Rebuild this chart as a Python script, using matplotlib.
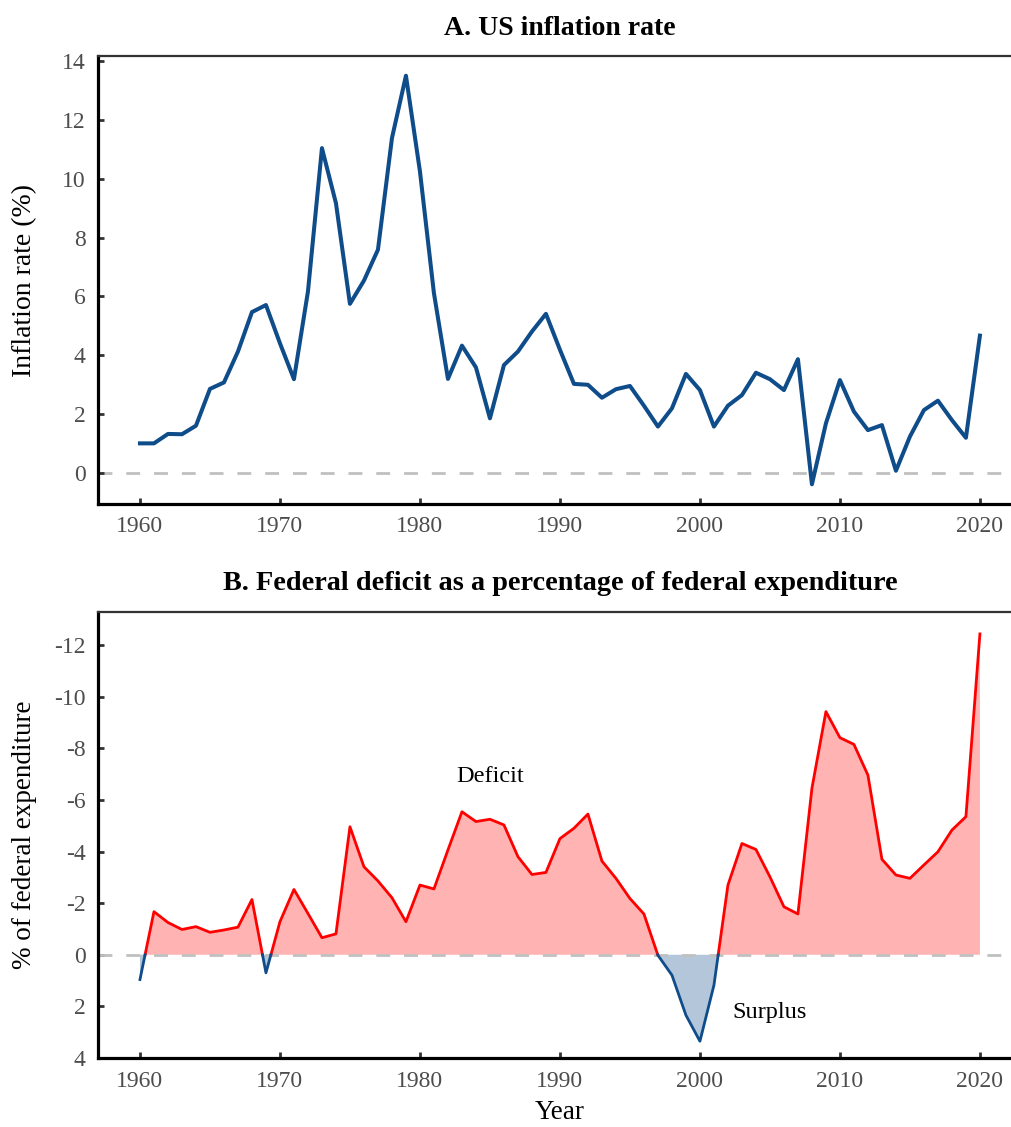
import numpy as np
import matplotlib
matplotlib.use("Agg")
import matplotlib.pyplot as plt

plt.rcParams['font.family'] = ['Liberation Serif', 'DejaVu Serif']
plt.rcParams['axes.unicode_minus'] = False

years = list(range(1960, 2021))

inflation = [1.01, 1.01, 1.33, 1.32, 1.61, 2.86, 3.08, 4.13, 5.47, 5.71,
             4.41, 3.19, 6.17, 11.04, 9.17, 5.75, 6.54, 7.59, 11.38, 13.50,
             10.25, 6.11, 3.20, 4.33, 3.59, 1.86, 3.67, 4.13, 4.81, 5.41,
             4.19, 3.03, 3.00, 2.56, 2.85, 2.96, 2.29, 1.58, 2.20, 3.37,
             2.82, 1.58, 2.29, 2.65, 3.41, 3.19, 2.82, 3.87, -0.38, 1.69,
             3.16, 2.09, 1.46, 1.63, 0.08, 1.24, 2.14, 2.46, 1.80, 1.20,
             4.67]

deficit = [0.96, -1.67, -1.25, -0.98, -1.09, -0.87, -0.96, -1.07, -2.14, 0.70,
           -1.28, -2.53, -1.60, -0.66, -0.81, -4.96, -3.41, -2.86, -2.21, -1.28,
           -2.70, -2.55, -4.06, -5.54, -5.16, -5.25, -5.03, -3.80, -3.11, -3.19,
           -4.50, -4.90, -5.45, -3.63, -2.96, -2.18, -1.58, 0.02, 0.79, 2.34,
           3.35, 1.18, -2.70, -4.31, -4.08, -3.02, -1.86, -1.58, -6.45, -9.42,
           -8.41, -8.15, -6.96, -3.70, -3.09, -2.96, -3.48, -3.99, -4.83, -5.35,
           -12.43]

x_ticks = [1960, 1970, 1980, 1990, 2000, 2010, 2020]
yA_ticks = [0, 2, 4, 6, 8, 10, 12, 14]
yB_ticks = [-12, -10, -8, -6, -4, -2, 0, 2, 4]

BLUE = '#0f4c8a'
RED = '#ff0000'
RED_FILL = '#ffb3b3'
BLUE_FILL = '#b3c6da'
GRID = '#c0c0c0'
TICKC = '#4d4d4d'

fig = plt.figure(figsize=(10.12, 11.27), dpi=100)
axA = fig.add_axes([0.0968, 0.5528, 0.913, 0.3975])
axB = fig.add_axes([0.0968, 0.0612, 0.913, 0.3958])

def style(ax):
    for s in ['left', 'bottom']:
        ax.spines[s].set_linewidth(2.3)
        ax.spines[s].set_color('black')
    ax.spines['top'].set_linewidth(1.6)
    ax.spines['top'].set_color('#333333')
    ax.spines['right'].set_visible(False)
    ax.tick_params(direction='in', length=4, width=2, color='#333333',
                   labelsize=17, labelcolor=TICKC, pad=9)
    ax.set_xticks(x_ticks)
    ax.set_xlim(1957, 2023)

# Panel A
style(axA)
axA.axhline(0, color=GRID, lw=2, ls=(0, (5, 5)), zorder=1)
axA.plot(years, inflation, color=BLUE, lw=2.9, zorder=3)
axA.set_ylim(-1.05, 14.17)
axA.set_yticks(yA_ticks)
axA.set_ylabel('Inflation rate (%)', fontsize=20, labelpad=18)
axA.set_title('A. US inflation rate', fontsize=20, fontweight='bold', pad=15)

# Panel B
style(axB)
yr = np.array(years, dtype=float)
d = np.array(deficit, dtype=float)
# insert zero crossings for coloring segments
xs, ys = [yr[0]], [d[0]]
for i in range(1, len(yr)):
    if d[i - 1] * d[i] < 0:
        t = d[i - 1] / (d[i - 1] - d[i])
        xs.append(yr[i - 1] + t * (yr[i] - yr[i - 1]))
        ys.append(0.0)
    xs.append(yr[i])
    ys.append(d[i])
xs = np.array(xs)
ys = np.array(ys)

axB.fill_between(xs, ys, 0, where=ys <= 0, color=RED_FILL, lw=0, zorder=1)
axB.fill_between(xs, ys, 0, where=ys >= 0, color=BLUE_FILL, lw=0, zorder=1)
axB.axhline(0, color=GRID, lw=2, ls=(0, (5, 5)), zorder=2)
neg = np.where(ys <= 0, ys, np.nan)
pos = np.where(ys >= 0, ys, np.nan)
axB.plot(xs, neg, color=RED, lw=2, zorder=3)
axB.plot(xs, pos, color=BLUE, lw=2, zorder=3)
axB.set_ylim(4, -13.28)
axB.set_yticks(yB_ticks)
axB.set_ylabel('% of federal expenditure', fontsize=19.5, labelpad=12)
axB.set_xlabel('Year', fontsize=19.5, labelpad=6)
axB.set_title('B. Federal deficit as a percentage of federal expenditure',
              fontsize=20.3, fontweight='bold', pad=16)
axB.text(1985.0, -6.9, 'Deficit', fontsize=17.5, ha='center', va='center')
axB.text(2005.0, 2.25, 'Surplus', fontsize=17.5, ha='center', va='center')

fig.savefig('out.png', dpi=100)
